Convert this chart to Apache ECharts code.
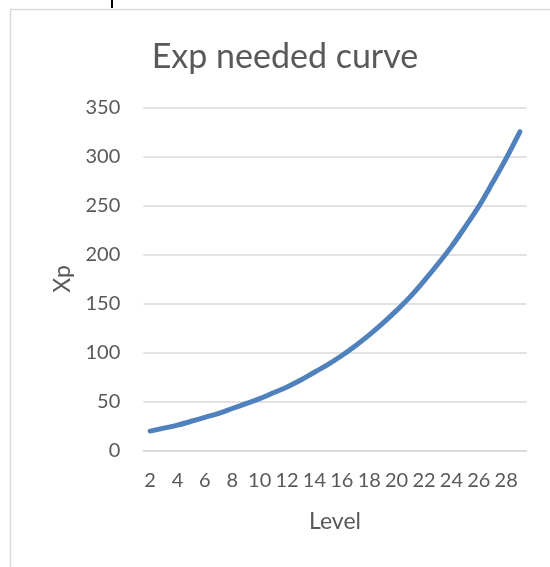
<!DOCTYPE html>
<html>
<head>
<meta charset="utf-8">
<script src="https://cdn.jsdelivr.net/npm/echarts@6/dist/echarts.min.js"></script>
<style>
html,body{margin:0;padding:0;background:#fff;}
#c{width:550px;height:567px;}
</style>
</head>
<body>
<div id="c"></div>
<script>
var titleText = "Exp needed curve";
var xName = "Level";
var yName = "Xp";
var levels = [2,3,4,5,6,7,8,9,10,11,12,13,14,15,16,17,18,19,20,21,22,23,24,25,26,27,28,29];
var xpNeeded = [20,23,26,30,34,38,43,48,53,59,65,72,80,88,97,107,118,130,143,157,173,190,208,228,249,273,298,325];
var yTicks = [0,50,100,150,200,250,300,350];

var chart = echarts.init(document.getElementById('c'), null, {renderer:'canvas'});
var FONT = 'Lato';
chart.setOption({
  animation:false,
  backgroundColor:'#ffffff',
  title:{
    text:titleText, left:280, top:35, textAlign:'center',
    textStyle:{fontFamily:FONT, fontSize:34, fontWeight:'normal', color:'#595959'}
  },
  graphic:[
    {type:'rect', shape:{x:10.5,y:9.5,width:600,height:600}, style:{fill:null, stroke:'#d9d9d9', lineWidth:1.5}, silent:true},
    {type:'line', shape:{x1:112,y1:0,x2:112,y2:8}, style:{stroke:'#000', lineWidth:2}, silent:true}
  ],
  grid:{left:143.3, right:23.3, top:107.3, bottom:116.3, containLabel:false},
  xAxis:{
    type:'category', data:levels, boundaryGap:true,
    name:xName, nameLocation:'middle', nameGap:59,
    nameTextStyle:{fontFamily:FONT, fontSize:23, color:'#595959'},
    axisLine:{show:true, lineStyle:{color:'#d9d9d9', width:1.5}},
    axisTick:{show:false},
    axisLabel:{interval:1, margin:20, fontFamily:FONT, fontSize:20, color:'#595959'},
    splitLine:{show:false}
  },
  yAxis:{
    type:'value', min:yTicks[0], max:yTicks[yTicks.length-1], interval:50,
    name:yName, nameLocation:'middle', nameGap:69,
    nameTextStyle:{fontFamily:FONT, fontSize:23, color:'#595959'},
    axisLine:{show:false}, axisTick:{show:false},
    axisLabel:{margin:23, fontFamily:FONT, fontSize:20, color:'#595959'},
    splitLine:{show:true, lineStyle:{color:'#d9d9d9', width:1.5}}
  },
  series:[{
    type:'line', data:xpNeeded, smooth:0.4, showSymbol:false,
    lineStyle:{color:'#4f81bd', width:5, cap:'round'},
    itemStyle:{color:'#4f81bd'}
  }]
});
</script>
</body>
</html>
